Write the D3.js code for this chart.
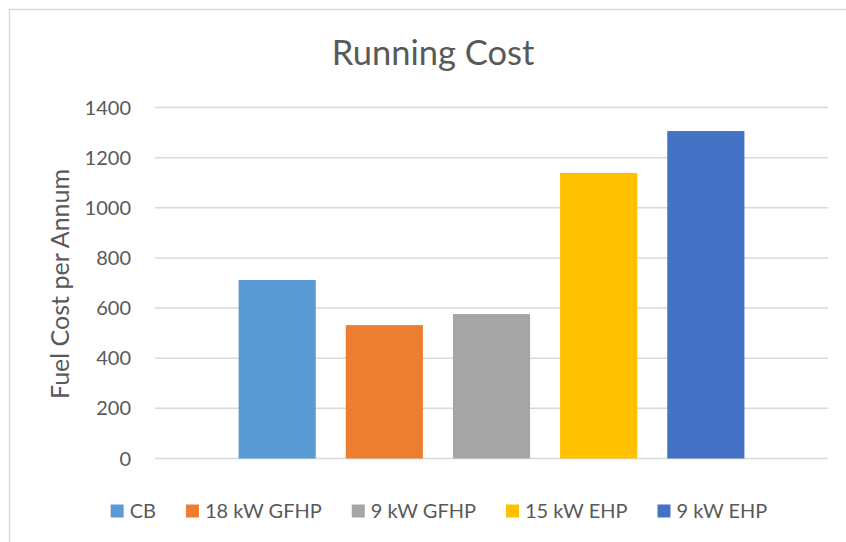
<!DOCTYPE html>
<html lang="en">
  <head>
    <meta charset="UTF-8" />
    <title>Running Cost</title>
    <style>
      body {
        margin: 0;
        background: #fff;
        overflow: hidden;
      }
      svg text {
        font-family: "Lato", "Open Sans", sans-serif;
        fill: #595959;
      }
      .grid line {
        stroke: #d9d9d9;
        stroke-width: 1.5px;
      }
    </style>
  </head>
  <body>
    <div id="chart"></div>
    <script src="https://d3js.org/d3.v7.min.js"></script>
    <script>
      // data
      const series = ["CB", "18 kW GFHP", "9 kW GFHP", "15 kW EHP", "9 kW EHP"];
      const values = [712, 532, 576, 1139, 1306];
      const colors = ["#5b9bd5", "#ed7d31", "#a5a5a5", "#ffc000", "#4472c4"];
      const yTicks = [0, 200, 400, 600, 800, 1000, 1200, 1400];

      const width = 846, height = 542;
      const plot = { left: 155, right: 828, top: 107.5, bottom: 458.5 };

      const svg = d3.select("#chart").append("svg")
        .attr("width", width)
        .attr("height", height);

      // chart area border
      svg.append("rect")
        .attr("x", 9.5).attr("y", 9.5)
        .attr("width", 900).attr("height", 600)
        .attr("fill", "#fff")
        .attr("stroke", "#d9d9d9")
        .attr("stroke-width", 1.5);

      const x = d3.scaleBand()
        .domain(series)
        .range([plot.left, plot.right])
        .paddingInner(0.28)
        .paddingOuter(0.78);

      const y = d3.scaleLinear()
        .domain([0, 1400])
        .range([plot.bottom, plot.top]);

      // gridlines
      svg.append("g").attr("class", "grid")
        .selectAll("line")
        .data(yTicks)
        .join("line")
        .attr("x1", plot.left).attr("x2", plot.right)
        .attr("y1", d => y(d)).attr("y2", d => y(d));

      // tick labels
      svg.append("g")
        .selectAll("text")
        .data(yTicks)
        .join("text")
        .attr("x", 131)
        .attr("y", d => y(d))
        .attr("dy", "0.35em")
        .attr("text-anchor", "end")
        .style("font-size", "20px")
        .text(d => d);

      // bars
      svg.append("g")
        .selectAll("rect")
        .data(series)
        .join("rect")
        .attr("x", d => x(d))
        .attr("width", x.bandwidth())
        .attr("y", (d, i) => y(values[i]))
        .attr("height", (d, i) => y(0) - y(values[i]))
        .attr("fill", (d, i) => colors[i]);

      // title
      svg.append("text")
        .attr("x", 433)
        .attr("y", 65)
        .attr("text-anchor", "middle")
        .style("font-size", "34.5px")
        .text("Running Cost");

      // y axis title
      svg.append("text")
        .attr("transform", "translate(69,284) rotate(-90)")
        .attr("text-anchor", "middle")
        .style("font-size", "25px")
        .text("Fuel Cost per Annum");

      // legend
      const legend = svg.append("g");
      const sw = 13, gapText = 6, gapItem = 30;
      let pos = 0;
      series.forEach((s, i) => {
        const item = legend.append("g").attr("transform", `translate(${pos},0)`);
        item.append("rect")
          .attr("x", 0).attr("y", -sw / 2)
          .attr("width", sw).attr("height", sw)
          .attr("fill", colors[i]);
        const t = item.append("text")
          .attr("x", sw + gapText)
          .attr("y", 0)
          .attr("dy", "0.35em")
          .style("font-size", "20px")
          .text(s);
        pos += sw + gapText + t.node().getComputedTextLength() + gapItem;
      });
      const total = pos - gapItem;
      legend.attr("transform", `translate(${439 - total / 2},511)`);
    </script>
  </body>
</html>
